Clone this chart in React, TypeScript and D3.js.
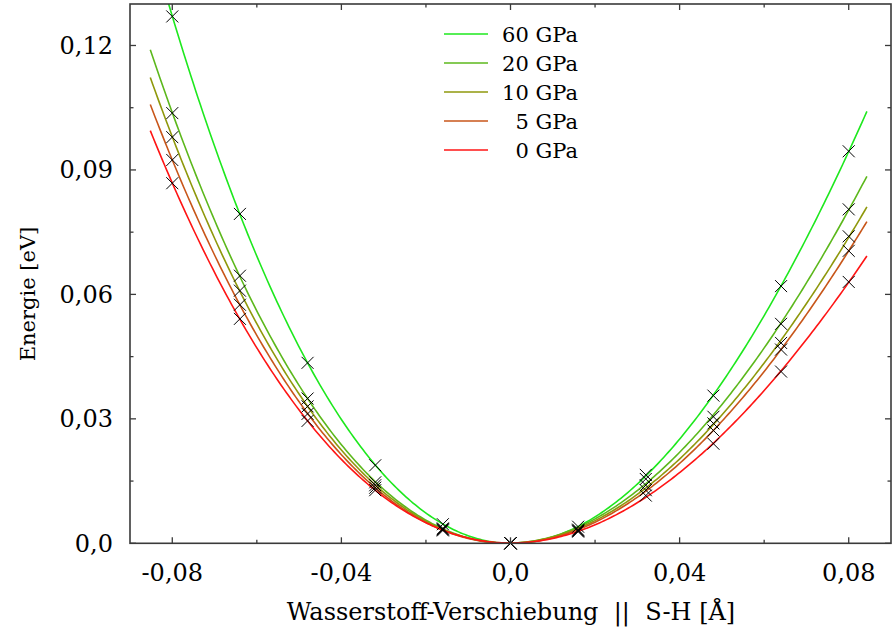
import React from "react";
import * as d3 from "d3";

const displacement = [-0.08, -0.064, -0.048, -0.032, -0.016, 0, 0.016, 0.032, 0.048, 0.064, 0.08];
const e60 = [0.127, 0.0794, 0.0435, 0.0188, 0.0046, 0, 0.004, 0.0165, 0.0356, 0.062, 0.0945];
const e20 = [0.1037, 0.0645, 0.0349, 0.0147, 0.0036, 0, 0.0033, 0.0155, 0.0305, 0.0529, 0.0805];
const e10 = [0.0979, 0.0609, 0.033, 0.014, 0.0034, 0, 0.0031, 0.014, 0.0289, 0.0483, 0.074];
const e5 = [0.0924, 0.0575, 0.0312, 0.0134, 0.0033, 0, 0.003, 0.0128, 0.0272, 0.0467, 0.0705];
const e0 = [0.0868, 0.0541, 0.0295, 0.0128, 0.0031, 0, 0.0028, 0.0115, 0.024, 0.0414, 0.063];

const seriesNames = ["60 GPa", "20 GPa", "10 GPa", "5 GPa", "0 GPa"];
const seriesValues = [e60, e20, e10, e5, e0];
const seriesColors = ["#1ee81e", "#5cb81c", "#8f980c", "#c8561a", "#ff1414"];
const fitRange = [-0.0852, 0.0843];

const xTicks = [-0.08, -0.06, -0.04, -0.02, 0, 0.02, 0.04, 0.06, 0.08];
const xTickLabels = ["-0,08", "", "-0,04", "", "0,0", "", "0,04", "", "0,08"];
const yTicks = [0, 0.015, 0.03, 0.045, 0.06, 0.075, 0.09, 0.105, 0.12];
const yTickLabels = ["0,0", "", "0,03", "", "0,06", "", "0,09", "", "0,12"];

function polyFit(xs: number[], ys: number[], deg: number) {
  const s = 0.08;
  const n = deg + 1;
  const A: number[][] = Array.from({ length: n }, () => new Array(n + 1).fill(0));
  xs.forEach((x0, k) => {
    const x = x0 / s;
    for (let i = 0; i < n; i++) {
      for (let j = 0; j < n; j++) A[i][j] += Math.pow(x, i + j);
      A[i][n] += Math.pow(x, i) * ys[k];
    }
  });
  for (let c = 0; c < n; c++) {
    let p = c;
    for (let r = c + 1; r < n; r++) if (Math.abs(A[r][c]) > Math.abs(A[p][c])) p = r;
    [A[c], A[p]] = [A[p], A[c]];
    for (let r = 0; r < n; r++) {
      if (r === c) continue;
      const f = A[r][c] / A[c][c];
      for (let k = c; k <= n; k++) A[r][k] -= f * A[c][k];
    }
  }
  const coef = A.map((row, i) => row[n] / row[i]);
  return (x0: number) => {
    const x = x0 / s;
    let v = 0;
    for (let i = n - 1; i >= 0; i--) v = v * x + coef[i];
    return v;
  };
}

export default function App() {
  const W = 893, H = 636;
  const L = 130, R = 891, T = 4, B = 543.3;
  const x = d3.scaleLinear().domain([-0.09, 0.09]).range([L, R]);
  const y = d3.scaleLinear().domain([0, 0.13]).range([B, T]);
  const font = "DejaVu Serif";
  const frameColor = "#3a3a3a";

  const samples = d3.range(0, 301).map((i) => fitRange[0] + (fitRange[1] - fitRange[0]) * (i / 300));
  const line = d3.line<[number, number]>().x((d) => x(d[0])).y((d) => y(d[1]));

  return (
    <svg width={W} height={H} style={{ position: "absolute", left: 0, top: 0, background: "#fff" }}>
      <defs>
        <clipPath id="plotclip">
          <rect x={L} y={T} width={R - L} height={B - T} />
        </clipPath>
      </defs>
      <rect x={0} y={0} width={W} height={H} fill="#fff" />
      <g clipPath="url(#plotclip)">
        {seriesValues.map((vals, si) => {
          const f = polyFit(displacement, vals, 4);
          const pts = samples.map((s) => [s, f(s)] as [number, number]);
          return <path key={si} d={line(pts) || ""} fill="none" stroke={seriesColors[si]} strokeWidth={1.6} />;
        })}
      </g>
      <g stroke="#000" strokeWidth={1}>
        {seriesValues.map((vals, si) =>
          vals.map((v, i) => {
            const cx = x(displacement[i]);
            const cy = y(v);
            const r = 6;
            return (
              <path key={si + "-" + i} d={`M${cx - r},${cy - r}L${cx + r},${cy + r}M${cx - r},${cy + r}L${cx + r},${cy - r}`} />
            );
          })
        )}
      </g>
      <rect x={L} y={T} width={R - L} height={B - T} fill="none" stroke={frameColor} strokeWidth={1.6} />
      <g stroke={frameColor} strokeWidth={1.3}>
        {xTicks.map((t, i) => {
          const len = xTickLabels[i] ? 6 : 3.5;
          return (
            <g key={"xt" + i}>
              <line x1={x(t)} x2={x(t)} y1={B} y2={B - len} />
              <line x1={x(t)} x2={x(t)} y1={T} y2={T + len} />
            </g>
          );
        })}
        {yTicks.map((t, i) => {
          const len = yTickLabels[i] ? 6 : 3.5;
          return (
            <g key={"yt" + i}>
              <line x1={L} x2={L + len} y1={y(t)} y2={y(t)} />
              <line x1={R} x2={R - len} y1={y(t)} y2={y(t)} />
            </g>
          );
        })}
      </g>
      <g fontFamily={font} fontSize={24} fill="#000">
        {xTicks.map((t, i) =>
          xTickLabels[i] ? (
            <text key={"xl" + i} x={x(t)} y={581} textAnchor="middle">
              {xTickLabels[i]}
            </text>
          ) : null
        )}
        {yTicks.map((t, i) =>
          yTickLabels[i] ? (
            <text key={"yl" + i} x={113} y={y(t) + 8.5} textAnchor="end">
              {yTickLabels[i]}
            </text>
          ) : null
        )}
      </g>
      <text x={511} y={620} textAnchor="middle" fontFamily={font} fontSize={24} fill="#000" xmlSpace="preserve">
        Wasserstoff-Verschiebung  ||  S-H [Å]
      </text>
      <text
        transform={`translate(35,${294}) rotate(-90)`}
        textAnchor="middle"
        fontFamily={font}
        fontSize={21}
        fill="#000"
      >
        Energie [eV]
      </text>
      <g fontFamily={font} fontSize={21} fill="#000">
        {seriesNames.map((name, i) => {
          const ly = 34 + i * 29;
          return (
            <g key={"lg" + i}>
              <line x1={444} x2={488} y1={ly} y2={ly} stroke={seriesColors[i]} strokeWidth={1.6} />
              <text x={578} y={ly + 8} textAnchor="end">
                {name}
              </text>
            </g>
          );
        })}
      </g>
    </svg>
  );
}
